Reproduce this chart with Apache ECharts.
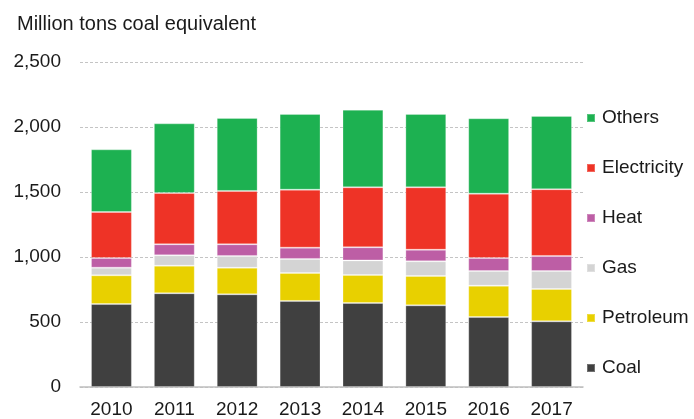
<!DOCTYPE html>
<html>
<head>
<meta charset="utf-8">
<script src="https://cdn.jsdelivr.net/npm/echarts@6/dist/echarts.min.js"></script>
<style>
  html, body { margin: 0; padding: 0; background: #fff; }
  #chart { width: 694px; height: 419px; }
</style>
</head>
<body>
<div id="chart"></div>
<script>
// years on the x axis
var years = ['2010', '2011', '2012', '2013', '2014', '2015', '2016', '2017'];

// segment values, million tons coal equivalent
var coal        = [638, 721, 713, 662, 646, 628, 538, 505];
var petroleum   = [221, 212, 205, 215, 216, 226, 241, 249];
var gas         = [59, 80, 90, 108, 112, 113, 113, 138];
var heat        = [74, 85, 90, 87, 101, 89, 100, 116];
var electricity = [354, 394, 410, 446, 461, 480, 495, 513];
var others      = [482, 536, 561, 582, 597, 564, 580, 564];

var legendOrder = ['Others', 'Electricity', 'Heat', 'Gas', 'Petroleum', 'Coal'];

var font = '"Liberation Sans", Arial, sans-serif';

function seg(name, data, color) {
  return {
    name: name,
    type: 'bar',
    stack: 'total',
    data: data,
    barWidth: '65%',
    itemStyle: { color: color, borderColor: 'rgba(255,255,255,0.25)', borderWidth: 1 },
    emphasis: { disabled: true }
  };
}

var chart = echarts.init(document.getElementById('chart'));

chart.setOption({
  animation: false,
  textStyle: { fontFamily: font },
  title: {
    text: 'Million tons coal equivalent',
    left: 12,
    top: 9,
    textStyle: { fontFamily: font, fontSize: 20, fontWeight: 'normal', color: '#1a1a1a' }
  },
  grid: { left: 80, right: 111, top: 62, bottom: 32 },
  legend: {
    data: legendOrder,
    orient: 'vertical',
    left: 581,
    top: 103,
    itemWidth: 8,
    itemHeight: 8,
    itemGap: 30,
    icon: 'rect',
    textStyle: { fontFamily: font, fontSize: 19, color: '#1a1a1a', lineHeight: 20, padding: [0, 0, 0, 2] }
  },
  xAxis: {
    type: 'category',
    data: years,
    axisLine: { lineStyle: { color: '#bfbfbf', width: 1.5 } },
    axisTick: { length: 6, lineStyle: { color: '#bfbfbf', width: 1.5 } },
    axisLabel: { fontFamily: font, fontSize: 19, color: '#1a1a1a', margin: 13 }
  },
  yAxis: {
    type: 'value',
    min: 0,
    max: 2500,
    interval: 500,
    axisLine: { show: false },
    axisTick: { show: false },
    splitLine: { lineStyle: { color: '#c4c4c4', type: [3, 2] } },
    axisLabel: {
      fontFamily: font, fontSize: 19, color: '#1a1a1a', margin: 19,
      formatter: function (v) { return v.toLocaleString('en-US'); }
    }
  },
  series: [
    seg('Coal', coal, '#404040'),
    seg('Petroleum', petroleum, '#e8d000'),
    seg('Gas', gas, '#d4d4d4'),
    seg('Heat', heat, '#bd5ea5'),
    seg('Electricity', electricity, '#ee3326'),
    seg('Others', others, '#1db151')
  ]
});
</script>
</body>
</html>
